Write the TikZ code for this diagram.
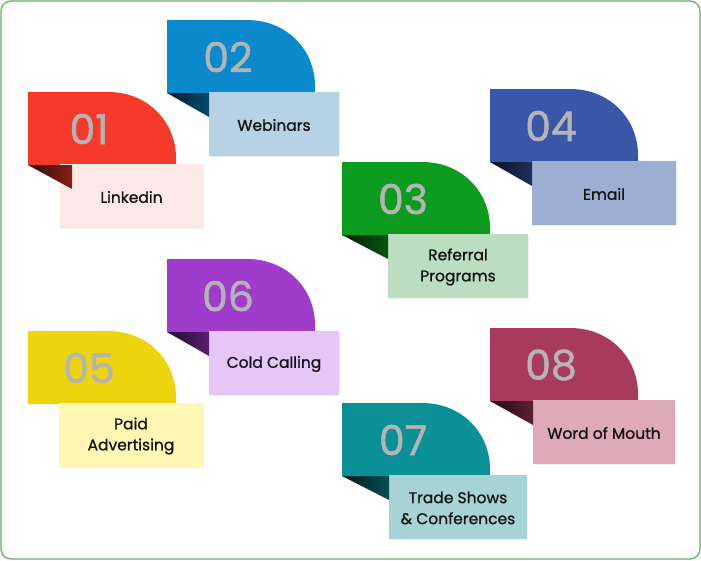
\documentclass[tikz,border=0pt]{standalone}
\usepackage{fontspec}
\setmainfont{Poppins}
\newfontfamily\labelfont{Poppins}[FakeBold=1.0]
\newfontfamily\numfont{Poppins}[FakeBold=1.2]
\usetikzlibrary{shadows}
\definecolor{framegreen}{HTML}{6AAF66}
\definecolor{numgray}{HTML}{B4B4B4}
\definecolor{tabA}{HTML}{F53A2B}\definecolor{boxA}{HTML}{FDE8E8}
\definecolor{tabB}{HTML}{0A89CC}\definecolor{boxB}{HTML}{B6D2E4}
\definecolor{tabC}{HTML}{0C9B1F}\definecolor{boxC}{HTML}{BDDDC1}
\definecolor{tabD}{HTML}{3A56A8}\definecolor{boxD}{HTML}{9EAED3}
\definecolor{tabE}{HTML}{ECD50F}\definecolor{boxE}{HTML}{FFF6B4}
\definecolor{tabF}{HTML}{A03CCB}\definecolor{boxF}{HTML}{E6C5F7}
\definecolor{tabG}{HTML}{0C9097}\definecolor{boxG}{HTML}{A8D3D6}
\definecolor{tabH}{HTML}{A83A5D}\definecolor{boxH}{HTML}{DEA9B9}
\tikzset{
  numtext/.style={text=numgray, font=\numfont\fontsize{41}{41}\selectfont, inner sep=0pt},
  labeltext/.style={text=black!92, font=\labelfont\fontsize{15.5}{21}\selectfont, align=center, inner sep=0pt},
  boxshadow/.style={drop shadow={opacity=0.12, shadow xshift=1pt, shadow yshift=-1pt}},
}
% #1 name #2 tab colour #3 box colour #4 x0 #5 y0 #6 box left #7 box right #8 number #9 label
\newcommand\tabpanel[9]{%
  \fill[#2] (#4,#5) -- ({#4+80},#5) .. controls ({#4+120},#5) and ({#4+148},{#5+30}) .. ({#4+148},{#5+66}) -- ({#4+148},{#5+73}) -- (#4,{#5+73}) -- cycle;
  \node[numtext] (#1num) at ({#4+61},{#5+37}) {#8};
  \fill[#3, boxshadow] (#6,{#5+72}) rectangle (#7,{#5+136});
  \node[labeltext] (#1lbl) at ({(#6+#7)/2},{#5+105}) {#9};
}
% #1 tab colour #2 x0 #3 y0 #4 right x
\newcommand\tabfold[4]{%
  \shade[left color=black!80!#1, right color=#1!55!black] (#2,{#3+73}) -- (#4,{#3+73}) -- (#4,{#3+97}) -- cycle;
}
\begin{document}
\begin{tikzpicture}[x=1pt, y=-1pt]
\useasboundingbox (0,0) rectangle (701,560);
\fill[white] (0,0) rectangle (701,560);
\draw[framegreen, line width=1.3pt, rounded corners=10pt] (1,1) rectangle (700,559);

\tabpanel{p2}{tabB}{boxB}{167}{20}{209}{339}{02}{Webinars}
\tabfold{tabB}{167}{20}{209}
\tabpanel{p1}{tabA}{boxA}{28}{92}{60}{203}{01}{Linkedin}
\tabfold{tabA}{28}{92}{72}
\tabpanel{p4}{tabD}{boxD}{490}{89}{532}{676}{04}{Email}
\tabfold{tabD}{490}{89}{532}
\tabpanel{p3}{tabC}{boxC}{342}{162}{388}{528}{03}{Referral\\Programs}
\tabfold{tabC}{342}{162}{388}
\tabpanel{p6}{tabF}{boxF}{167}{259}{209}{339}{06}{Cold Calling}
\tabfold{tabF}{167}{259}{209}
\tabpanel{p5}{tabE}{boxE}{28}{331}{59}{203}{05}{Paid\\Advertising}
\tabpanel{p8}{tabH}{boxH}{490}{328}{533}{675}{08}{Word of Mouth}
\tabfold{tabH}{490}{328}{533}
\tabpanel{p7}{tabG}{boxG}{342}{403}{389}{527}{07}{Trade Shows\\\& Conferences}
\tabfold{tabG}{342}{403}{389}
\end{tikzpicture}
\end{document}
